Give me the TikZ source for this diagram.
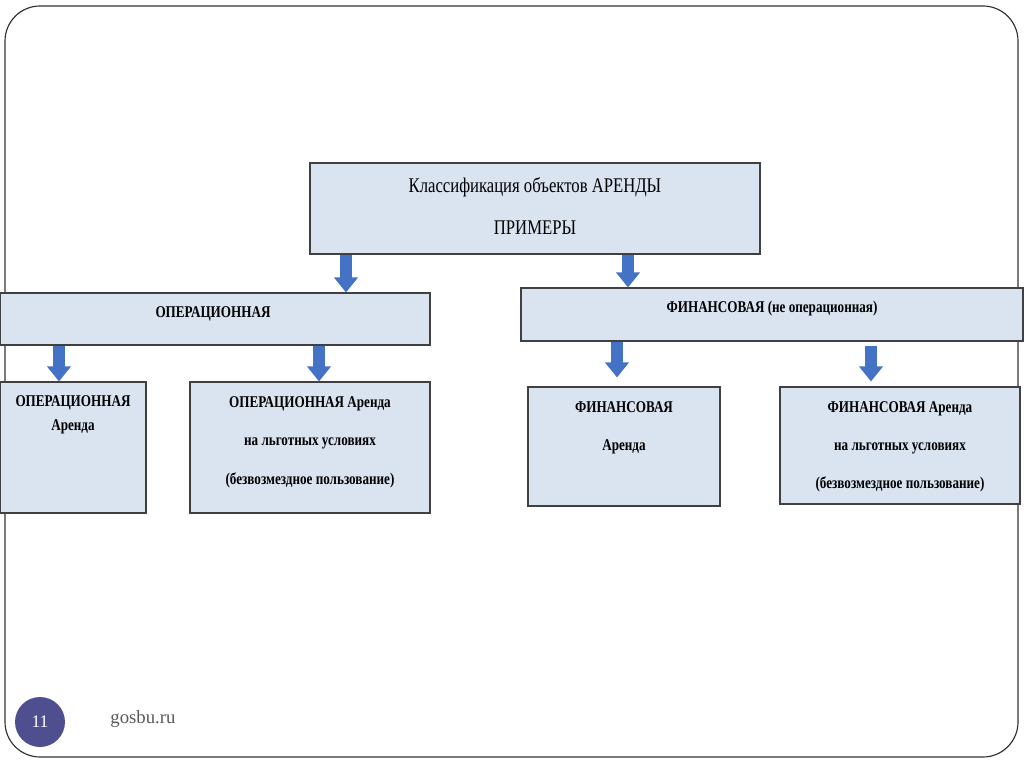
\documentclass[tikz,border=0pt]{standalone}
\usepackage{fontspec}
\setmainfont{Liberation Serif}
\newfontfamily\schmal[FakeStretch=0.8]{Liberation Serif}
\usetikzlibrary{arrows.meta}
\definecolor{boxfill}{HTML}{DAE3F0}
\definecolor{pilblue}{HTML}{4472C4}
\definecolor{seitenrund}{HTML}{4F4F8F}

\begin{document}
\begin{tikzpicture}[x=0.03cm,y=-0.03cm,
  box/.style={draw=black!75,fill=boxfill,line width=0.9pt,inner sep=0pt},
  kopf/.style={align=center,font=\schmal\fontsize{17.8}{36}\selectfont},
  fett/.style={align=center,font=\schmal\bfseries\fontsize{14}{#1}\selectfont},
  fett/.default=16,
  pil/.style={pilblue,line width=0.36cm,-{Triangle[width=0.69cm,length=0.45cm]}}]
  \useasboundingbox (0,0) rectangle (1024,767);
  \draw[black!80,line width=1pt,rounded corners=1.05cm] (5,6) rectangle (1018,757);

  \node[box,minimum width=13.5cm,minimum height=2.73cm] (klass) at (535,208.5) {};
  \node[box,minimum width=12.9cm,minimum height=1.56cm] (oper) at (215,319) {};
  \node[box,minimum width=15.06cm,minimum height=1.59cm] (fin) at (772,314.5) {};
  \node[box,minimum width=4.38cm,minimum height=3.93cm] (oparenda) at (73,447.5) {};
  \node[box,minimum width=7.2cm,minimum height=3.93cm] (oplgot) at (310,447.5) {};
  \node[box,minimum width=5.76cm,minimum height=3.57cm] (finarenda) at (624,446.5) {};
  \node[box,minimum width=7.2cm,minimum height=3.51cm] (finlgot) at (900,445.5) {};

  \node[kopf] (t-klass) at (535,206) {Классификация объектов АРЕНДЫ\\ПРИМЕРЫ};
  \node[fett] (t-oper) at (213,314) {ОПЕРАЦИОННАЯ};
  \node[fett] (t-fin) at (772,309) {ФИНАНСОВАЯ (не операционная)};
  \node[fett=20.5] (t-oparenda) at (73,415) {ОПЕРАЦИОННАЯ\\Аренда};
  \node[fett=33] (t-oplgot) at (310,442) {ОПЕРАЦИОННАЯ Аренда\\на льготных условиях\\(безвозмездное пользование)};
  \node[fett=32.5] (t-finarenda) at (624,428) {ФИНАНСОВАЯ\\Аренда};
  \node[fett=32.5] (t-finlgot) at (900,447) {ФИНАНСОВАЯ Аренда\\на льготных условиях\\(безвозмездное пользование)};

  \draw[pil] ([xshift=-5.67cm]klass.south) coordinate (p1) -- (p1 |- oper.north);
  \draw[pil] ([xshift=2.79cm]klass.south) coordinate (p2) -- (p2 |- fin.north);
  \draw[pil] ([xshift=-4.68cm]oper.south) coordinate (p3) -- (p3 |- oparenda.north);
  \draw[pil] ([xshift=3.12cm]oper.south) coordinate (p4) -- (p4 |- oplgot.north);
  \draw[pil] ([xshift=-4.65cm]fin.south) coordinate (p5) -- ([yshift=0.27cm]p5 |- finarenda.north);
  \draw[pil] ([xshift=2.97cm,yshift=-0.12cm]fin.south) coordinate (p6) -- ([yshift=0.15cm]p6 |- finlgot.north);

  \node[circle,fill=seitenrund,minimum size=1.5cm,text=white,font=\fontsize{15}{17}\selectfont] (seite) at (40,722) {11};
  \node[text=black!65,font=\fontsize{16}{18}\selectfont] (quelle) at (143,719) {gosbu.ru};
\end{tikzpicture}
\end{document}
